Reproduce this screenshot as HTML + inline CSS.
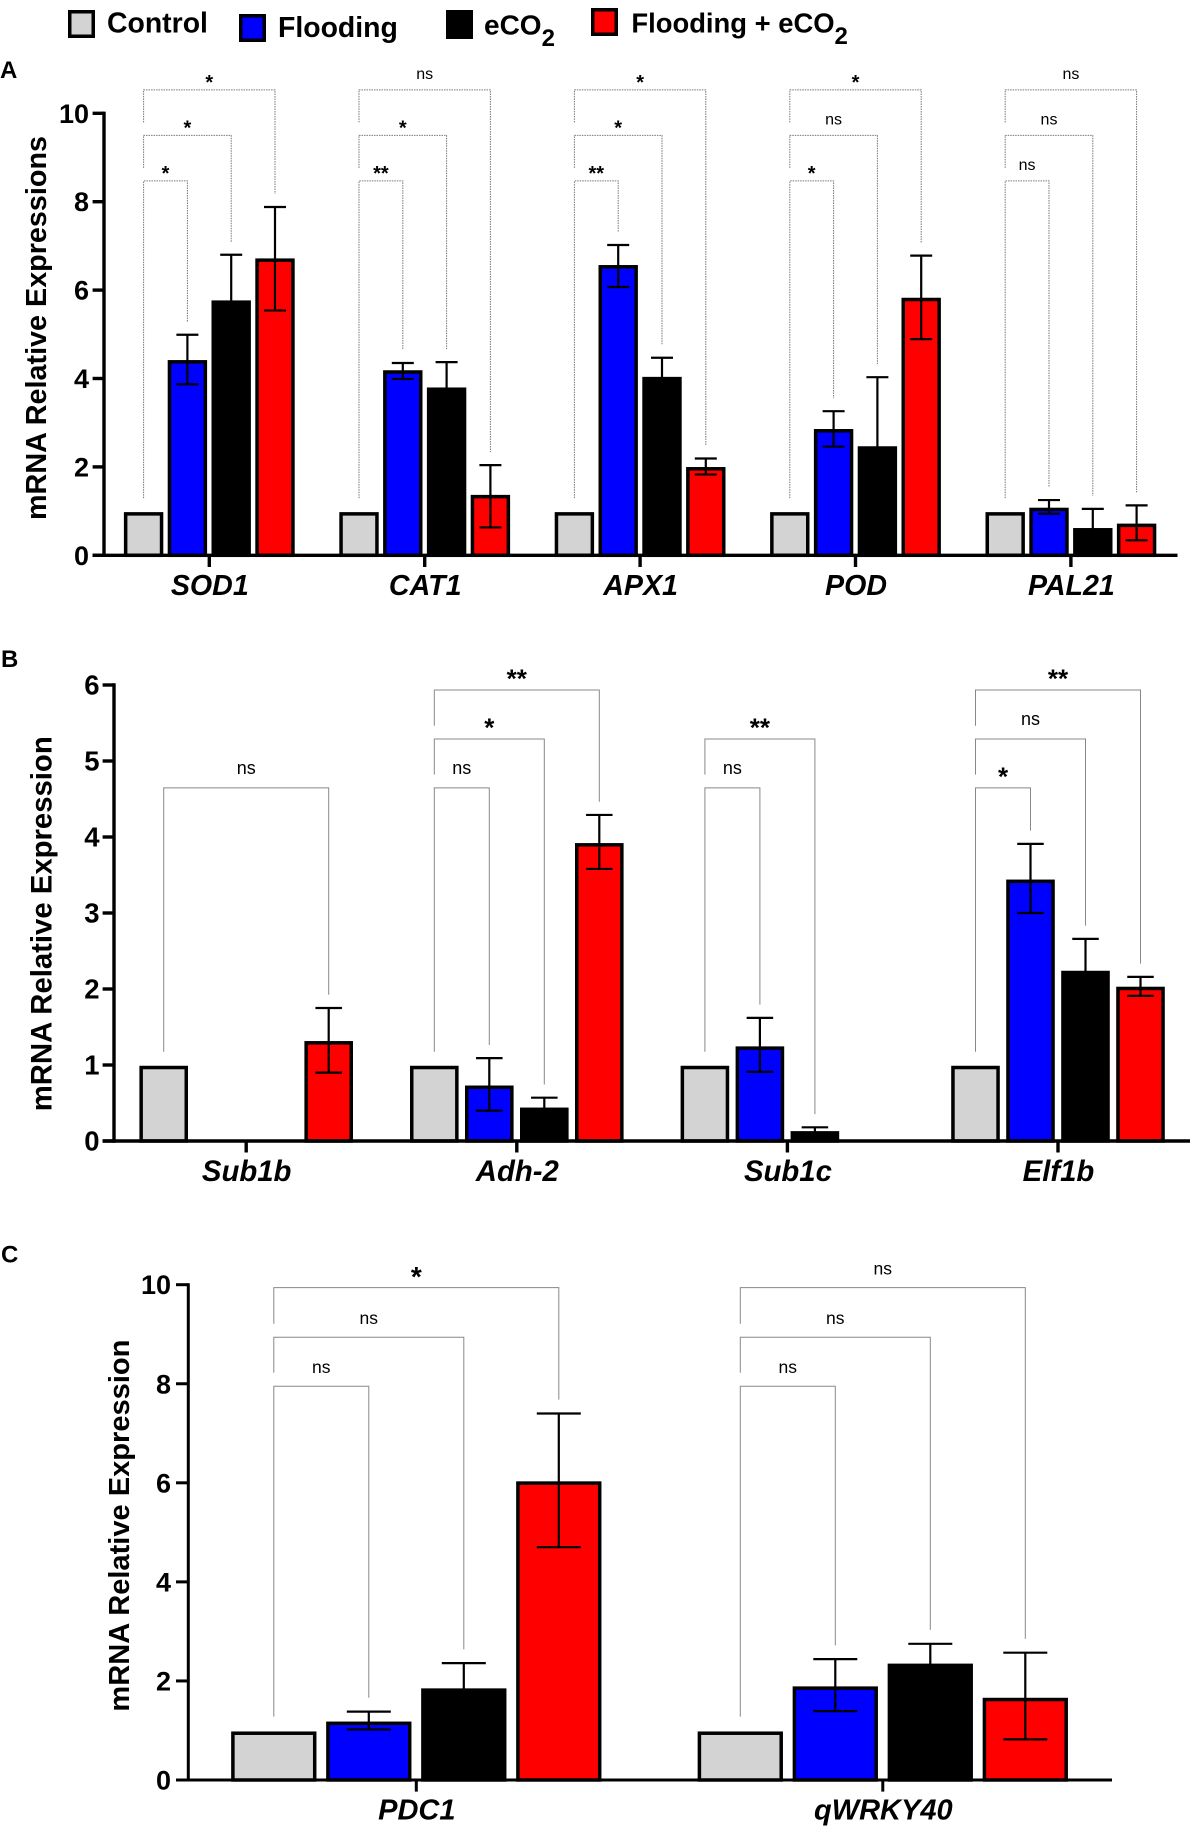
<!DOCTYPE html>
<html>
<head>
<meta charset="utf-8">
<title>mRNA relative expression charts</title>
<style>
html,body{margin:0;padding:0;background:#fff;width:1197px;height:1834px;overflow:hidden}
svg{display:block}
text{font-family:"Liberation Sans",sans-serif;fill:#000}
</style>
</head>
<body>
<svg id="figure" xmlns="http://www.w3.org/2000/svg" width="1197" height="1834" viewBox="0 0 1197 1834">
  <g>
    <g>
      <rect x="69.75" y="11.75" width="23.5" height="24.5" fill="#d3d3d3" stroke="#000" stroke-width="3.5"/>
      <text x="107" y="32.5" font-size="28.4" font-weight="bold">Control</text>
    </g>
    <g>
      <rect x="240.75" y="15.75" width="23.5" height="24.5" fill="#0000ff" stroke="#000" stroke-width="3.5"/>
      <text x="278" y="37" font-size="28.4" font-weight="bold">Flooding</text>
    </g>
    <g>
      <rect x="447.5" y="11.5" width="24" height="26" fill="#000" stroke="#000" stroke-width="3"/>
      <text x="484" y="34.5" font-size="28" font-weight="bold">eCO<tspan dy="11.5" font-size="24">2</tspan></text>
    </g>
    <g>
      <rect x="592.75" y="9.75" width="23.5" height="24.5" fill="#ff0000" stroke="#000" stroke-width="3.5"/>
      <text x="631.4" y="32.5" font-size="27.4" font-weight="bold">Flooding + eCO<tspan dy="11.5" font-size="24">2</tspan></text>
    </g>
  </g>
  <text x="0" y="78" font-size="24" font-weight="bold">A</text>
  <text x="1" y="667" font-size="24" font-weight="bold">B</text>
  <text x="1" y="1262.7" font-size="24" font-weight="bold">C</text>
</svg>
<script>
// Shared series information
const seriesNames = ['control', 'flooding', 'eco2', 'flooding-eco2'];
const seriesColors = ['#d3d3d3', '#0000ff', '#000000', '#ff0000'];

// Panel A data
const aGenes = ['SOD1', 'CAT1', 'APX1', 'POD', 'PAL21'];
const aTicks = [0, 2, 4, 6, 8, 10];
const aControl = [0.96, 0.96, 0.96, 0.96, 0.96];
const aFlooding = [4.4, 4.17, 6.55, 2.84, 1.06];
const aECO2 = [5.75, 3.78, 4.02, 2.45, 0.6];
const aFloodingECO2 = [6.7, 1.35, 1.98, 5.81, 0.7];
const aFloodingHigh = [4.99, 4.35, 7.02, 3.26, 1.25];
const aFloodingLow = [3.87, 3.99, 6.07, 2.46, 0.94];
const aECO2High = [6.8, 4.37, 4.47, 4.03, 1.05];
const aECO2Low = [4.7, 3.19, 3.57, 0.87, 0.15];
const aFloodingECO2High = [7.88, 2.04, 2.19, 6.78, 1.13];
const aFloodingECO2Low = [5.54, 0.63, 1.83, 4.89, 0.34];
const aSigFlooding = ['*', '**', '**', '*', 'ns'];
const aSigECO2 = ['*', '*', '*', 'ns', 'ns'];
const aSigBoth = ['*', 'ns', '*', '*', 'ns'];
const aBothRank = [2, 2, 2, 2, 2];
const aBracketLevels = [8.47, 9.5, 10.53];

// Panel B data
const bGenes = ['Sub1b', 'Adh-2', 'Sub1c', 'Elf1b'];
const bTicks = [0, 1, 2, 3, 4, 5, 6];
const bControl = [0.99, 0.99, 0.99, 0.99];
const bFlooding = [null, 0.73, 1.245, 3.44];
const bECO2 = [null, 0.44, 0.13, 2.24];
const bFloodingECO2 = [1.315, 3.92, null, 2.03];
const bFloodingHigh = [null, 1.09, 1.62, 3.91];
const bFloodingLow = [null, 0.4, 0.91, 3.0];
const bECO2High = [null, 0.57, 0.18, 2.66];
const bECO2Low = [null, 0.31, 0.08, 1.82];
const bFloodingECO2High = [1.75, 4.29, null, 2.16];
const bFloodingECO2Low = [0.9, 3.58, null, 1.91];
const bSigFlooding = [null, 'ns', 'ns', '*'];
const bSigECO2 = [null, '*', '**', 'ns'];
const bSigBoth = ['ns', '**', null, '**'];
const bBothRank = [0, 2, 2, 2];
const bBracketLevels = [4.647, 5.29, 5.935];

// Panel C data
const cGenes = ['PDC1', 'qWRKY40'];
const cTicks = [0, 2, 4, 6, 8, 10];
const cControl = [0.98, 0.98];
const cFlooding = [1.18, 1.89];
const cECO2 = [1.85, 2.35];
const cFloodingECO2 = [6.03, 1.66];
const cFloodingHigh = [1.38, 2.44];
const cFloodingLow = [1.02, 1.39];
const cECO2High = [2.36, 2.75];
const cECO2Low = [1.34, 1.95];
const cFloodingECO2High = [7.4, 2.57];
const cFloodingECO2Low = [4.7, 0.82];
const cSigFlooding = ['ns', 'ns'];
const cSigECO2 = ['ns', 'ns'];
const cSigBoth = ['*', 'ns'];
const cBothRank = [2, 2];
const cBracketLevels = [7.95, 8.94, 9.94];

const SVG_NS = 'http://www.w3.org/2000/svg';
const figure = document.getElementById('figure');

function make(parent, tag, attrs, content) {
  const node = document.createElementNS(SVG_NS, tag);
  for (const key in attrs) node.setAttribute(key, attrs[key]);
  if (content !== undefined) node.textContent = content;
  parent.appendChild(node);
  return node;
}

function drawPanel(p) {
  const yScale = v => p.y0 - (v / p.yMax) * (p.y0 - p.yTop);
  const groupX = i => p.firstGroupX + i * p.groupStep;
  const barX = (i, s) => groupX(i) + (s - 1.5) * p.barStep;

  const panel = make(figure, 'g', {});
  
  

  // bars
  const values = [p.control, p.flooding, p.eco2, p.both];
  const highs = [null, p.floodingHigh, p.eco2High, p.bothHigh];
  const lows = [null, p.floodingLow, p.eco2Low, p.bothLow];
  p.genes.forEach((gene, i) => {
    const group = make(panel, 'g', {});
    
    
    values.forEach((arr, s) => {
      if (arr[i] === null) return;
      const top = yScale(arr[i]) + p.barInset;
      const bar = make(group, 'rect', {
        x: barX(i, s) - p.barWidth / 2 + p.barStroke / 2,
        y: top,
        width: p.barWidth - p.barStroke,
        height: Math.max(p.y0 - top, 0.5),
        fill: seriesColors[s],
        stroke: '#000',
        'stroke-width': p.barStroke
      });
      
      
    });
    highs.forEach((arr, s) => {
      if (!arr || arr[i] === null) return;
      const cx = barX(i, s);
      const err = make(group, 'path', {
        d: 'M' + cx + ' ' + yScale(lows[s][i]) + 'V' + yScale(arr[i]) +
           'M' + (cx - p.capWidth / 2) + ' ' + yScale(arr[i]) + 'H' + (cx + p.capWidth / 2) +
           'M' + (cx - p.capWidth / 2) + ' ' + yScale(lows[s][i]) + 'H' + (cx + p.capWidth / 2),
        fill: 'none',
        stroke: '#000',
        'stroke-width': p.errStroke
      });
      
      
    });
  });

  // significance brackets
  const sigs = [p.sigFlooding, p.sigECO2, p.sigBoth];
  p.genes.forEach((gene, i) => {
    sigs.forEach((arr, k) => {
      if (arr[i] === null) return;
      const s = k + 1;
      const rank = k === 2 ? p.bothRank[i] : k;
      const level = yScale(p.levels[rank]);
      const left = barX(i, 0);
      const right = barX(i, s);
      const leftEnd = rank === 0 ? yScale(1) - p.legGap : yScale(p.levels[rank - 1]) - p.legGapUpper;
      const rightEnd = yScale(highs[s][i]) - p.legGap;
      const bracket = make(panel, 'path', {
        d: 'M' + left + ' ' + leftEnd + 'V' + level + 'H' + right + 'V' + rightEnd,
        fill: 'none',
        stroke: p.bracketColor,
        'stroke-width': p.bracketWidth,
        'stroke-dasharray': p.bracketDash
      });
      
      
      const isNs = arr[i] === 'ns';
      const label = make(panel, 'text', {
        x: (left + right) / 2,
        y: isNs ? level - p.nsOffset : level + p.starOffset,
        'text-anchor': 'middle',
        'font-size': isNs ? p.nsSize : p.starSize,
        'font-weight': isNs ? 'normal' : 'bold'
      }, arr[i]);
      
      
    });
  });

  // axes
  const yAxis = make(panel, 'line', { x1: p.axisX, x2: p.axisX, y1: p.yTop - p.axisStroke / 2, y2: p.y0 + p.axisStroke / 2, stroke: '#000', 'stroke-width': p.axisStroke });
  
  
  const xAxis = make(panel, 'line', { x1: p.tickLeft, x2: p.axisEnd, y1: p.y0, y2: p.y0, stroke: '#000', 'stroke-width': p.axisStroke });
  
  

  p.ticks.forEach(t => {
    const yTick = make(panel, 'line', { x1: p.tickLeft, x2: p.axisX, y1: yScale(t), y2: yScale(t), stroke: '#000', 'stroke-width': p.axisStroke });
    
    
    const yLabel = make(panel, 'text', {
      x: p.tickLabelRight,
      y: yScale(t) + 9.5,
      'text-anchor': 'end',
      'font-size': p.tickSize,
      'font-weight': 'bold'
    }, String(t));
    
    
  });

  p.genes.forEach((gene, i) => {
    const xTick = make(panel, 'line', { x1: groupX(i), x2: groupX(i), y1: p.y0, y2: p.xTickEnd, stroke: '#000', 'stroke-width': p.axisStroke });
    
    
    const xLabel = make(panel, 'text', {
      x: groupX(i) + 0.5,
      y: p.xLabelY,
      'text-anchor': 'middle',
      'font-size': p.xLabelSize,
      'font-weight': 'bold',
      'font-style': 'italic'
    }, gene);
    
    
  });

  const title = make(panel, 'text', {
    transform: 'translate(' + p.titleX + ' ' + p.titleY + ') rotate(-90)',
    'text-anchor': 'middle',
    'font-size': p.titleSize,
    'font-weight': 'bold',
    textLength: p.titleLength,
    lengthAdjust: 'spacingAndGlyphs'
  }, p.title);
  
  
}

drawPanel({
  id: 'a', genes: aGenes, ticks: aTicks, yMax: 10,
  control: aControl, flooding: aFlooding, eco2: aECO2, both: aFloodingECO2,
  floodingHigh: aFloodingHigh, floodingLow: aFloodingLow,
  eco2High: aECO2High, eco2Low: aECO2Low,
  bothHigh: aFloodingECO2High, bothLow: aFloodingECO2Low,
  sigFlooding: aSigFlooding, sigECO2: aSigECO2, sigBoth: aSigBoth, bothRank: aBothRank, levels: aBracketLevels,
  axisX: 104, y0: 555.3, yTop: 113.3, axisEnd: 1177.5, tickLeft: 92.6, axisStroke: 3.4,
  firstGroupX: 209.3, groupStep: 215.4, barStep: 43.8, barWidth: 39.4, barInset: 1, barStroke: 3.5,
  capWidth: 22, errStroke: 2.2, legGap: 13, legGapUpper: 13,
  bracketColor: '#777', bracketWidth: 1, bracketDash: '1.5 1',
  nsOffset: 11, starOffset: -1, nsSize: 16, starSize: 20,
  tickLabelRight: 89, tickSize: 27, xTickEnd: 567, xLabelY: 595, xLabelSize: 28.6,
  title: 'mRNA Relative Expressions', titleX: 46, titleY: 328, titleSize: 28.6, titleLength: 384
});

drawPanel({
  id: 'b', genes: bGenes, ticks: bTicks, yMax: 6,
  control: bControl, flooding: bFlooding, eco2: bECO2, both: bFloodingECO2,
  floodingHigh: bFloodingHigh, floodingLow: bFloodingLow,
  eco2High: bECO2High, eco2Low: bECO2Low,
  bothHigh: bFloodingECO2High, bothLow: bFloodingECO2Low,
  sigFlooding: bSigFlooding, sigECO2: bSigECO2, sigBoth: bSigBoth, bothRank: bBothRank, levels: bBracketLevels,
  axisX: 114, y0: 1141, yTop: 685, axisEnd: 1190, tickLeft: 102.6, axisStroke: 3.4,
  firstGroupX: 246.2, groupStep: 270.6, barStep: 55, barWidth: 48.6, barInset: 1.75, barStroke: 3.5,
  capWidth: 26.5, errStroke: 2.2, legGap: 13.2, legGapUpper: 13.2,
  bracketColor: '#888', bracketWidth: 1, bracketDash: 'none',
  nsOffset: 14, starOffset: -2.3, nsSize: 18, starSize: 26,
  tickLabelRight: 99.5, tickSize: 27.5, xTickEnd: 1152.5, xLabelY: 1181, xLabelSize: 29.3,
  title: 'mRNA Relative Expression', titleX: 51.7, titleY: 923.8, titleSize: 29.2, titleLength: 375
});

drawPanel({
  id: 'c', genes: cGenes, ticks: cTicks, yMax: 10,
  control: cControl, flooding: cFlooding, eco2: cECO2, both: cFloodingECO2,
  floodingHigh: cFloodingHigh, floodingLow: cFloodingLow,
  eco2High: cECO2High, eco2Low: cECO2Low,
  bothHigh: cFloodingECO2High, bothLow: cFloodingECO2Low,
  sigFlooding: cSigFlooding, sigECO2: cSigECO2, sigBoth: cSigBoth, bothRank: cBothRank, levels: cBracketLevels,
  axisX: 188.3, y0: 1780, yTop: 1284.7, axisEnd: 1112, tickLeft: 176, axisStroke: 3,
  firstGroupX: 416.3, groupStep: 466.5, barStep: 95, barWidth: 85.3, barInset: 1.75, barStroke: 3.5,
  capWidth: 44, errStroke: 2.2, legGap: 13.9, legGapUpper: 13.5,
  bracketColor: '#888', bracketWidth: 1, bracketDash: 'none',
  nsOffset: 13.2, starOffset: -1.5, nsSize: 17.5, starSize: 28,
  tickLabelRight: 171, tickSize: 27, xTickEnd: 1791.6, xLabelY: 1819.5, xLabelSize: 29,
  title: 'mRNA Relative Expression', titleX: 129, titleY: 1525.6, titleSize: 28.9, titleLength: 372
});
</script>
</body>
</html>
